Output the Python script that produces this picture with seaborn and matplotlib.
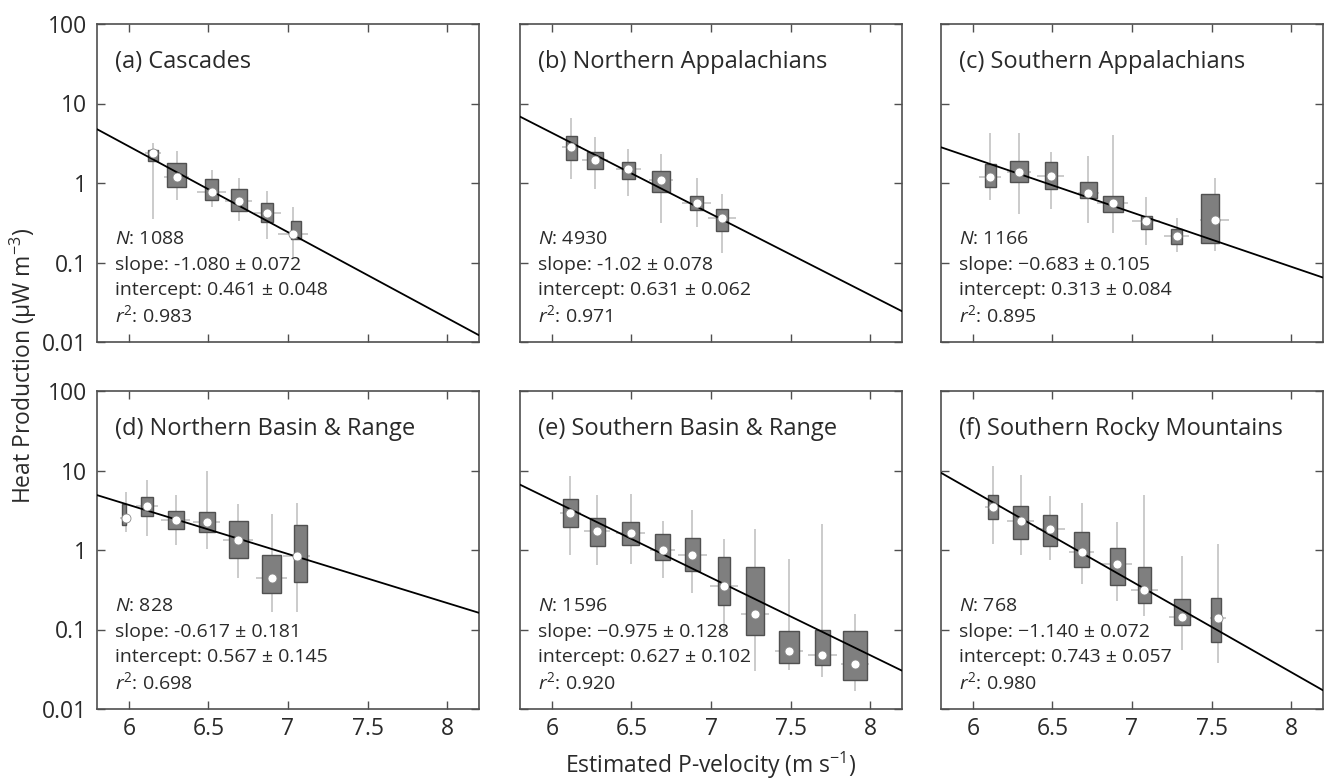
import numpy as np
import matplotlib
matplotlib.use("Agg")
import matplotlib.pyplot as plt
import seaborn as sns

# ---------------- data ----------------
panel_titles = ["(a) Cascades", "(b) Northern Appalachians", "(c) Southern Appalachians",
                "(d) Northern Basin & Range", "(e) Southern Basin & Range", "(f) Southern Rocky Mountains"]
n_values = ["1088", "4930", "1166", "828", "1596", "768"]
slope_text = ["-1.080", "-1.02", "\u22120.683", "-0.617", "\u22120.975", "\u22121.140"]
slope_err_text = ["0.072", "0.078", "0.105", "0.181", "0.128", "0.072"]
intercept_text = ["0.461", "0.631", "0.313", "0.567", "0.627", "0.743"]
intercept_err_text = ["0.048", "0.062", "0.084", "0.145", "0.102", "0.057"]
r2_text = ["0.983", "0.971", "0.895", "0.698", "0.920", "0.980"]
slopes = [-1.080, -1.02, -0.683, -0.617, -0.975, -1.140]
intercepts = [0.461, 0.631, 0.313, 0.567, 0.627, 0.743]
vp_ref = 6.0  # velocity at which intercept applies

# box centres (velocity bins) and relative box widths
box_vp = [
    [6.15, 6.30, 6.52, 6.69, 6.87, 7.05],
    [6.123, 6.27, 6.48, 6.685, 6.91, 7.07],
    [6.11, 6.29, 6.49, 6.725, 6.88, 7.09, 7.28, 7.49],
    [5.97, 6.115, 6.295, 6.49, 6.688, 6.897, 7.08],
    [6.117, 6.285, 6.496, 6.696, 6.883, 7.083, 7.277, 7.49, 7.70, 7.905],
    [6.125, 6.30, 6.4875, 6.683, 6.906, 7.077, 7.3125, 7.527],
]
box_width = [
    [0.063, 0.121, 0.083, 0.10, 0.077, 0.065],
    [0.071, 0.098, 0.079, 0.1125, 0.085, 0.075],
    [0.067, 0.115, 0.073, 0.108, 0.121, 0.071, 0.073, 0.115],
    [0.03, 0.073, 0.098, 0.10, 0.121, 0.121, 0.079],
    [0.094, 0.096, 0.108, 0.092, 0.092, 0.079, 0.108, 0.125, 0.094, 0.146],
    [0.065, 0.098, 0.0875, 0.092, 0.094, 0.079, 0.10, 0.0625],
]
# upper / lower quartiles of heat production
hp_q3 = [
    [2.58, 1.76, 1.11, 0.83, 0.56, 0.33],
    [3.94, 2.44, 1.86, 1.41, 0.68, 0.474],
    [1.74, 1.90, 1.82, 1.02, 0.684, 0.39, 0.261, 0.724],
    [3.83, 4.64, 3.06, 3.0, 2.35, 0.87, 2.04],
    [4.42, 2.55, 2.24, 1.57, 1.43, 0.81, 0.61, 0.096, 0.10, 0.096],
    [4.97, 3.54, 2.72, 1.68, 1.07, 0.62, 0.242, 0.25],
]
hp_q1 = [
    [1.87, 0.895, 0.62, 0.45, 0.32, 0.195],
    [1.97, 1.52, 1.13, 0.78, 0.456, 0.249],
    [0.887, 1.02, 0.83, 0.64, 0.43, 0.266, 0.173, 0.178],
    [2.08, 2.65, 1.85, 1.68, 0.80, 0.288, 0.40],
    [1.94, 1.12, 1.16, 0.74, 0.55, 0.205, 0.086, 0.038, 0.036, 0.023],
    [2.48, 1.38, 1.11, 0.62, 0.364, 0.216, 0.114, 0.069],
]
# whisker extents
hp_hi = [
    [3.19, 2.5, 1.45, 1.16, 0.79, 0.50],
    [6.56, 3.79, 2.69, 2.32, 1.16, 0.72],
    [4.26, 4.26, 2.46, 2.21, 4.05, 0.66, 0.366, 1.15],
    [5.36, 7.54, 4.88, 9.8, 3.83, 2.87, 3.94],
    [8.53, 4.88, 5.11, 2.35, 3.15, 1.36, 1.82, 0.77, 2.14, 0.157],
    [11.3, 8.9, 4.73, 3.94, 2.24, 4.88, 0.83, 1.2],
]
hp_lo = [
    [0.35, 0.62, 0.50, 0.33, 0.195, 0.11],
    [1.11, 0.845, 0.68, 0.317, 0.279, 0.13],
    [0.61, 0.41, 0.466, 0.31, 0.233, 0.166, 0.136, 0.14],
    [1.68, 1.49, 1.16, 1.03, 0.44, 0.164, 0.164],
    [0.87, 0.65, 0.66, 0.44, 0.29, 0.09, 0.03, 0.031, 0.025, 0.017],
    [1.2, 0.87, 0.74, 0.37, 0.23, 0.149, 0.055, 0.038],
]
# mean points (white dots) and velocity spread
mean_vp = [
    [6.15, 6.30, 6.52, 6.69, 6.87, 7.03],
    [6.123, 6.27, 6.48, 6.685, 6.91, 7.07],
    [6.11, 6.29, 6.49, 6.725, 6.88, 7.09, 7.28, 7.52],
    [5.98, 6.115, 6.295, 6.49, 6.688, 6.897, 7.055],
    [6.117, 6.285, 6.496, 6.696, 6.883, 7.083, 7.277, 7.49, 7.70, 7.905],
    [6.125, 6.30, 6.4875, 6.683, 6.906, 7.077, 7.3125, 7.54],
]
mean_hp = [
    [2.39, 1.20, 0.77, 0.59, 0.42, 0.226],
    [2.84, 1.93, 1.52, 1.09, 0.56, 0.359],
    [1.18, 1.39, 1.24, 0.75, 0.56, 0.332, 0.215, 0.342],
    [2.55, 3.57, 2.36, 2.24, 1.32, 0.446, 0.83],
    [2.94, 1.71, 1.63, 1.01, 0.87, 0.356, 0.157, 0.053, 0.048, 0.037],
    [3.44, 2.33, 1.85, 0.94, 0.67, 0.318, 0.145, 0.139],
]
vp_spread = [
    [0.05, 0.08, 0.09, 0.085, 0.085, 0.095],
    [0.06, 0.083, 0.08, 0.075, 0.09, 0.086],
    [0.07, 0.078, 0.085, 0.065, 0.098, 0.087, 0.08, 0.09],
    [0.033, 0.07, 0.09, 0.085, 0.095, 0.095, 0.085],
    [0.065, 0.08, 0.09, 0.08, 0.09, 0.087, 0.09, 0.09, 0.09, 0.09],
    [0.05, 0.085, 0.09, 0.08, 0.093, 0.085, 0.078, 0.05],
]
x_ticks = [6, 6.5, 7, 7.5, 8]
x_tick_labels = ["6", "6.5", "7", "7.5", "8"]
y_ticks = [0.01, 0.1, 1, 10, 100]
y_tick_labels = ["0.01", "0.1", "1", "10", "100"]

# ---------------- style ----------------
sns.set_theme(style="ticks")
FONT = "Open Sans"
plt.rcParams["font.family"] = [FONT, "DejaVu Sans"]
plt.rcParams["mathtext.fontset"] = "custom"
plt.rcParams["mathtext.rm"] = FONT
plt.rcParams["mathtext.it"] = FONT + ":italic"
plt.rcParams["mathtext.default"] = "regular"

TXT = "#2a2a2a"
SPINE = "#4f4f4f"
BOX_FACE = "#7f7f7f"
BOX_EDGE = "#505050"
WHISK = "#bdbdbd"

W, H = 1327, 780
fig = plt.figure(figsize=(W / 100, H / 100), dpi=100)
fig.patch.set_facecolor("white")

col_left = [97, 520, 941]
row_top = [24, 391]
pw, ph = 382, 318

for i in range(6):
    r, c = divmod(i, 3)
    ax = fig.add_axes([col_left[c] / W, 1 - (row_top[r] + ph) / H, pw / W, ph / H])
    ax.set_yscale("log")
    ax.set_xlim(5.8, 8.2)
    ax.set_ylim(0.01, 100)

    bx = np.array(box_vp[i]); bw = np.array(box_width[i])
    q1 = np.array(hp_q1[i]); q3 = np.array(hp_q3[i])
    mx = np.array(mean_vp[i]); my = np.array(mean_hp[i])
    sp = np.array(vp_spread[i])

    # whiskers (vertical) and velocity spread (horizontal)
    ax.vlines(mx, hp_lo[i], hp_hi[i], color=WHISK, lw=1.1, zorder=1)
    ax.hlines(my, mx - sp, mx + sp, color=WHISK, lw=1.1, zorder=1)
    # interquartile boxes
    ax.bar(bx, q3 - q1, bottom=q1, width=bw, color=BOX_FACE, edgecolor=BOX_EDGE,
           linewidth=1.0, zorder=2)
    # regression line
    vgrid = np.linspace(5.8, 8.2, 50)
    sns.lineplot(x=vgrid, y=10 ** (intercepts[i] + slopes[i] * (vgrid - vp_ref)),
                 ax=ax, color="black", lw=1.3, zorder=3)
    # mean points
    sns.scatterplot(x=mx, y=my, ax=ax, color="white", edgecolor="#888888",
                    linewidth=0.6, s=42, zorder=4)

    ax.set_xticks(x_ticks)
    ax.set_yticks(y_ticks)
    ax.minorticks_off()
    ax.tick_params(which="both", direction="in", length=6, width=1.0, color=SPINE,
                   top=True, right=True, labelsize=16.5, labelcolor=TXT, pad=7)
    if r == 1:
        ax.set_xticklabels(x_tick_labels)
        ax.tick_params(axis="x", pad=6)
    else:
        ax.set_xticklabels([])
    if c == 0:
        ax.set_yticklabels(y_tick_labels)
    else:
        ax.set_yticklabels([])
    for s in ax.spines.values():
        s.set_color(SPINE)
        s.set_linewidth(1.2)
    ax.set_xlabel(""); ax.set_ylabel("")

    ax.text(0.047, 0.88, panel_titles[i], transform=ax.transAxes, fontsize=17,
            color=TXT, va="center", ha="left")
    lines = [
        r"$\mathit{N}$: " + n_values[i],
        "slope: " + slope_text[i] + " \u00b1 " + slope_err_text[i],
        "intercept: " + intercept_text[i] + " \u00b1 " + intercept_err_text[i],
        r"$\mathit{r}^{2}$: " + r2_text[i],
    ]
    for k, t in enumerate(lines):
        ax.text(0.047, 0.323 - k * 0.080, t, transform=ax.transAxes, fontsize=14,
                color=TXT, va="center", ha="left")

fig.text(23 / W, 1 - 366 / H, r"Heat Production (μW m$^{-3}$)", rotation=90,
         ha="center", va="center", fontsize=16.5, color=TXT)
fig.text(711 / W, 1 - 765 / H, r"Estimated P-velocity (m s$^{-1}$)",
         ha="center", va="center", fontsize=16.5, color=TXT)

fig.savefig("out.png", dpi=100, facecolor="white")
